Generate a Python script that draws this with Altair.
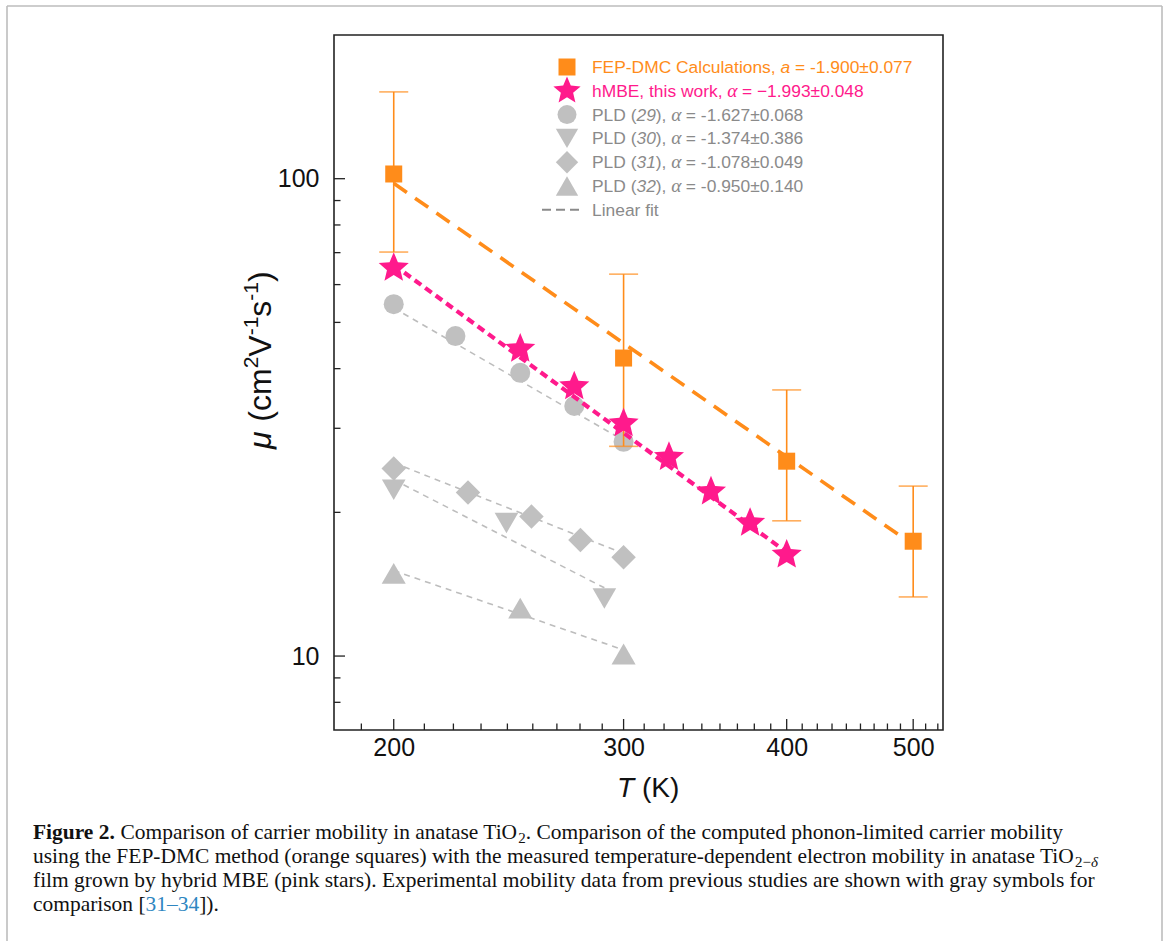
import altair as alt
import pandas as pd

# ---------------- data ----------------
fep_T = [200, 300, 400, 500]
fep_mu = [102.3, 42.1, 25.6, 17.4]
fep_hi = [152.0, 63.1, 36.1, 22.7]
fep_lo = [70.2, 27.5, 19.2, 13.3]
fep_fit_T = [200, 500]
fep_fit_mu = [97.8, 17.1]

hmbe_T = [200, 250, 275, 300, 325, 350, 375, 400]
hmbe_mu = [65.0, 44.0, 36.7, 30.7, 26.1, 22.1, 19.0, 16.3]
hmbe_fit_T = [200, 400]
hmbe_fit_mu = [66.0, 16.5]

pld29_T = [200, 223, 250, 275, 300]
pld29_mu = [54.6, 46.8, 39.2, 33.4, 28.1]
pld29_fit_T = [200, 300]
pld29_fit_mu = [53.6, 28.3]

pld30_T = [200, 244, 290]
pld30_mu = [22.3, 19.0, 13.2]
pld30_fit_T = [200, 290]
pld30_fit_mu = [23.4, 13.9]

pld31_T = [200, 228, 255, 278, 300]
pld31_mu = [24.7, 22.0, 19.6, 17.5, 16.1]
pld31_fit_T = [200, 300]
pld31_fit_mu = [25.4, 16.4]

pld32_T = [200, 250, 300]
pld32_mu = [14.9, 12.6, 10.1]
pld32_fit_T = [200, 300]
pld32_fit_mu = [15.1, 10.3]

x_major = [200, 300, 400, 500]
x_minor = [188.9, 211.1, 222.2, 233.3, 244.4, 255.6, 266.7, 277.8, 288.9,
           311.1, 322.2, 333.3, 344.4, 355.6, 366.7, 377.8, 388.9,
           411.1, 422.2, 433.3, 444.4, 455.6, 466.7, 477.8, 488.9, 511.1, 522.2]
y_major = [10, 100]
y_minor = [8, 9, 20, 30, 40, 50, 60, 70, 80, 90]

legend_rows = [
    ("FEP-DMC Calculations, ", "a", " = -1.900±0.077"),
    ("hMBE, this work, ", "α", " = −1.993±0.048"),
    ("PLD (", "29", "), ", "α", " = -1.627±0.068"),
    ("PLD (", "30", "), ", "α", " = -1.374±0.386"),
    ("PLD (", "31", "), ", "α", " = -1.078±0.049"),
    ("PLD (", "32", "), ", "α", " = -0.950±0.140"),
]

# ---------------- styling ----------------
ORANGE = "#FF8C1A"
PINK = "#FF1A8C"
GRAY = "#C0C0C0"
GRAY_TXT = "#8A8A8A"
GRAY_FIT = "#BDBDBD"
W, H = 609, 695
OX, OY = 334, 35
SANS = "Liberation Sans"
SERIF = "Liberation Serif"
STAR = ("M0,-1L0.2645,-0.364L0.9511,-0.309L0.428,0.139L0.5878,0.809L0,0.45"
        "L-0.5878,0.809L-0.428,0.139L-0.9511,-0.309L-0.2645,-0.364Z")

ARIAL = {" ": 278, "(": 333, ")": 333, ",": 278, "-": 333, ".": 278, "=": 584, "±": 584,
         "−": 584, "μ": 576, "α": 560}
for c in "0123456789":
    ARIAL[c] = 556
ARIAL.update(dict(zip("abcdefghijklmnopqrstuvwxyz",
                      [556, 556, 500, 556, 556, 278, 556, 556, 222, 222, 500, 222, 833, 556, 556, 556, 556,
                       333, 500, 278, 556, 500, 722, 500, 500, 500])))
ARIAL.update(dict(zip("ABCDEFGHIJKLMNOPQRSTUVWXYZ",
                      [667, 667, 722, 722, 667, 611, 778, 722, 278, 500, 667, 556, 833, 722, 778, 667, 778,
                       722, 667, 611, 722, 667, 944, 667, 667, 611])))
TIMES = {" ": 250, "(": 333, ")": 333, ",": 250, "-": 333, ".": 250, "[": 333, "]": 333,
         "–": 500, "−": 564, "δ": 480}
for c in "0123456789":
    TIMES[c] = 500
TIMES.update(dict(zip("abcdefghijklmnopqrstuvwxyz",
                      [444, 500, 444, 500, 444, 333, 500, 500, 278, 278, 500, 278, 778, 500, 500, 500, 500,
                       333, 389, 278, 500, 500, 722, 500, 500, 444])))
TIMES.update(dict(zip("ABCDEFGHIJKLMNOPQRSTUVWXYZ",
                      [722, 667, 667, 722, 611, 556, 722, 722, 333, 389, 722, 611, 889, 722, 722, 556, 722,
                       667, 556, 611, 722, 722, 944, 722, 722, 611])))
TIMES_BOLD = {"F": 611, "i": 278, "g": 500, "u": 556, "r": 444, "e": 444, " ": 250, "2": 500, ".": 250}


def width(s, table, size):
    return sum(table.get(ch, 500) for ch in s) * size / 1000.0


ONE = pd.DataFrame({"k": [0]})

xscale = alt.Scale(type="log", domain=[180, 527], nice=False)
yscale = alt.Scale(type="log", domain=[7, 200], nice=False)
xaxis = alt.Axis(values=x_major, format="d", labelFont=SANS, labelFontSize=25, labelColor="#111",
                 ticks=False, domain=False, grid=False, title=None, labelPadding=5,
                 labelFlush=False, orient="bottom")
yaxis = alt.Axis(values=y_major, format="d", labelFont=SANS, labelFontSize=25, labelColor="#111",
                 ticks=False, domain=False, grid=False, title=None, labelPadding=15,
                 labelFlush=False, orient="left")


def X(f="T"):
    return alt.X(f"{f}:Q", scale=xscale, axis=xaxis)


def Y(f="mu"):
    return alt.Y(f"{f}:Q", scale=yscale, axis=yaxis)


def df(T, mu):
    return pd.DataFrame({"T": T, "mu": mu})


def fit(T, mu, color, width_, dash):
    return alt.Chart(df(T, mu)).mark_line(color=color, strokeWidth=width_, strokeDash=dash).encode(
        x=X(), y=Y())


def pts(T, mu, shape, size, color):
    return alt.Chart(df(T, mu)).mark_point(shape=shape, size=size, filled=True, opacity=1,
                                           color=color, strokeWidth=0).encode(x=X(), y=Y())


def txt(s, x, y, size, color="#111", font=SANS, style="normal", weight="normal",
        align="left", baseline="alphabetic", angle=0):
    # leading blanks are trimmed by the renderer: move the anchor instead
    lead = len(s) - len(s.lstrip(" "))
    off = lead * (0.278 if font == SANS else 0.25) * size
    if angle == 270:
        y -= off
    else:
        x += off
    s = s.strip(" ")
    return alt.Chart(ONE).mark_text(align=align, baseline=baseline, font=font, fontSize=size,
                                    fontStyle=style, fontWeight=weight, color=color, angle=angle).encode(
        x=alt.value(x), y=alt.value(y), text=alt.value(s))


def sym(x, y, shape, size, color):
    return alt.Chart(ONE).mark_point(shape=shape, size=size, filled=True, opacity=1, color=color,
                                     strokeWidth=0).encode(x=alt.value(x), y=alt.value(y))


def hline(x1, x2, y, color, sw, dash=None):
    kw = dict(color=color, strokeWidth=sw)
    if dash:
        kw["strokeDash"] = dash
    return alt.Chart(ONE).mark_rule(**kw).encode(x=alt.value(x1), x2=alt.value(x2), y=alt.value(y))


def vline(x, y1, y2, color, sw):
    return alt.Chart(ONE).mark_rule(color=color, strokeWidth=sw).encode(
        x=alt.value(x), y=alt.value(y1), y2=alt.value(y2))


layers = []
# gray fits and markers
layers.append(fit(pld29_fit_T, pld29_fit_mu, GRAY_FIT, 1.6, [6, 5]))
layers.append(fit(pld30_fit_T, pld30_fit_mu, GRAY_FIT, 1.6, [6, 5]))
layers.append(fit(pld31_fit_T, pld31_fit_mu, GRAY_FIT, 1.6, [6, 5]))
layers.append(fit(pld32_fit_T, pld32_fit_mu, GRAY_FIT, 1.6, [6, 5]))
layers.append(pts(pld29_T, pld29_mu, "circle", 400, GRAY))
layers.append(pts(pld30_T, pld30_mu, "triangle-down", 560, GRAY))
layers.append(pts(pld31_T, pld31_mu, "diamond", 600, GRAY))
layers.append(pts(pld32_T, pld32_mu, "triangle-up", 580, GRAY))

# FEP-DMC
err = pd.DataFrame({"T": fep_T, "lo": fep_lo, "hi": fep_hi})
layers.append(alt.Chart(err).mark_rule(color=ORANGE, strokeWidth=1.6).encode(x=X(), y=Y("lo"), y2="hi:Q"))
layers.append(alt.Chart(err).mark_tick(color=ORANGE, orient="horizontal", size=29, thickness=1.6).encode(
    x=X(), y=Y("hi")))
layers.append(alt.Chart(err).mark_tick(color=ORANGE, orient="horizontal", size=29, thickness=1.6).encode(
    x=X(), y=Y("lo")))
layers.append(fit(fep_fit_T, fep_fit_mu, ORANGE, 3.6, [16, 10]))
layers.append(pts(fep_T, fep_mu, "square", 289, ORANGE))

# hMBE
layers.append(fit(hmbe_fit_T, hmbe_fit_mu, PINK, 4.2, [8, 5]))
layers.append(pts(hmbe_T, hmbe_mu, STAR, 1000, PINK))

# inward ticks
TK = "#222"
layers.append(alt.Chart(pd.DataFrame({"T": x_major})).mark_rule(color=TK, strokeWidth=1.3).encode(
    x=X(), y=alt.value(H), y2=alt.value(H - 11)))
layers.append(alt.Chart(pd.DataFrame({"T": x_minor})).mark_rule(color=TK, strokeWidth=1.3).encode(
    x=X(), y=alt.value(H), y2=alt.value(H - 6.5)))
layers.append(alt.Chart(pd.DataFrame({"mu": y_major})).mark_rule(color=TK, strokeWidth=1.3).encode(
    y=Y(), x=alt.value(0), x2=alt.value(11)))
layers.append(alt.Chart(pd.DataFrame({"mu": y_minor})).mark_rule(color=TK, strokeWidth=1.3).encode(
    y=Y(), x=alt.value(0), x2=alt.value(6.5)))

# ---------------- legend ----------------
LFS = 17.4
LSX, LTX = 233, 258
row_y = [32 + 23.8 * i for i in range(7)]
leg_syms = [("square", 289, ORANGE), (STAR, 820, PINK), ("circle", 361, GRAY),
            ("triangle-down", 500, GRAY), ("diamond", 500, GRAY), ("triangle-up", 500, GRAY)]
leg_cols = [ORANGE, PINK, GRAY_TXT, GRAY_TXT, GRAY_TXT, GRAY_TXT]
for i, row in enumerate(legend_rows):
    shape, size, col = leg_syms[i]
    layers.append(sym(LSX, row_y[i], shape, size, col))
    x = LTX
    for j, piece in enumerate(row):
        italic = (len(row) == 3 and j == 1) or (len(row) == 5 and j in (1, 3))
        font = SERIF if piece == "α" else SANS
        fs = LFS + 2 if piece == "α" else LFS
        layers.append(txt(piece, x, row_y[i] + 6, fs, leg_cols[i], font=font,
                          style="italic" if italic else "normal"))
        x += width(piece, ARIAL, LFS)
layers.append(hline(208, 249, row_y[6], "#8A8A8A", 2, [9, 5]))
layers.append(txt("Linear fit", LTX, row_y[6] + 6, LFS, GRAY_TXT))

# ---------------- axis titles ----------------
XT = 28
layers.append(txt("T", 283, 762, XT, "#111", style="italic"))
layers.append(txt(" (K)", 283 + width("T", ARIAL, XT), 762, XT, "#111"))

YT, YS = 32, 21
ybase_x = -63
ypos = 414
for piece, sup in [("μ", False), (" (cm", False), ("2", True), ("V", False), ("-1", True),
                   ("s", False), ("-1", True), (")", False)]:
    fs = YS if sup else YT
    layers.append(txt(piece, ybase_x - (13 if sup else 0), ypos, fs, "#111",
                      style="italic" if piece == "μ" else "normal", angle=270))
    ypos -= width(piece, ARIAL, fs)

# ---------------- caption ----------------
CX = 33 - OX
cap_lines = [
    [("Figure 2.", "bold"), (" Comparison of carrier mobility in anatase TiO", "n"), ("2", "sub"),
     (". Comparison of the computed phonon-limited carrier mobility", "n")],
    [("using the FEP-DMC method (orange squares) with the measured temperature-dependent electron mobility in anatase TiO", "n"),
     ("2−", "sub"), ("δ", "subi")],
    [("film grown by hybrid MBE (pink stars). Experimental mobility data from previous studies are shown with gray symbols for", "n")],
    [("comparison [", "n"), ("31–34", "link"), ("]).", "n")],
]


def cap_w(runs, fs):
    t = 0
    for s, kind in runs:
        if kind == "bold":
            t += width(s, TIMES_BOLD, fs)
        elif kind in ("sub", "subi"):
            t += width(s, TIMES, fs * 0.7)
        else:
            t += width(s, TIMES, fs)
    return t


CFS = 1030.0 / (cap_w(cap_lines[0], 1.0))
cap_y = [804, 828, 852, 876]
for runs, yb in zip(cap_lines, cap_y):
    x = CX
    for s, kind in runs:
        if kind == "bold":
            layers.append(txt(s, x, yb, CFS, "#111", font=SERIF, weight="bold"))
            x += width(s, TIMES_BOLD, CFS)
        elif kind in ("sub", "subi"):
            layers.append(txt(s, x, yb + 4, CFS * 0.7, "#111", font=SERIF,
                              style="italic" if kind == "subi" else "normal"))
            x += width(s, TIMES, CFS * 0.7)
        else:
            layers.append(txt(s, x, yb, CFS, "#2E86C1" if kind == "link" else "#111", font=SERIF))
            x += width(s, TIMES, CFS)

# ---------------- outer border ----------------
BC = "#BDBDBD"
layers.append(hline(7 - OX, 1162 - OX, 6 - OY, BC, 1.6))
layers.append(vline(7 - OX, 6 - OY, 941 - OY, BC, 1.6))
layers.append(vline(1162 - OX, 6 - OY, 941 - OY, BC, 1.6))

chart = alt.layer(*layers).properties(
    width=W, height=H,
    autosize=alt.AutoSizeParams(type="none"),
    padding={"left": OX, "top": OY, "right": 1167 - OX - W, "bottom": 941 - OY - H},
    background="white",
).configure_view(stroke="#222", strokeWidth=1.6)

chart.save("out.html", embed_options={"renderer": "svg", "actions": False})
